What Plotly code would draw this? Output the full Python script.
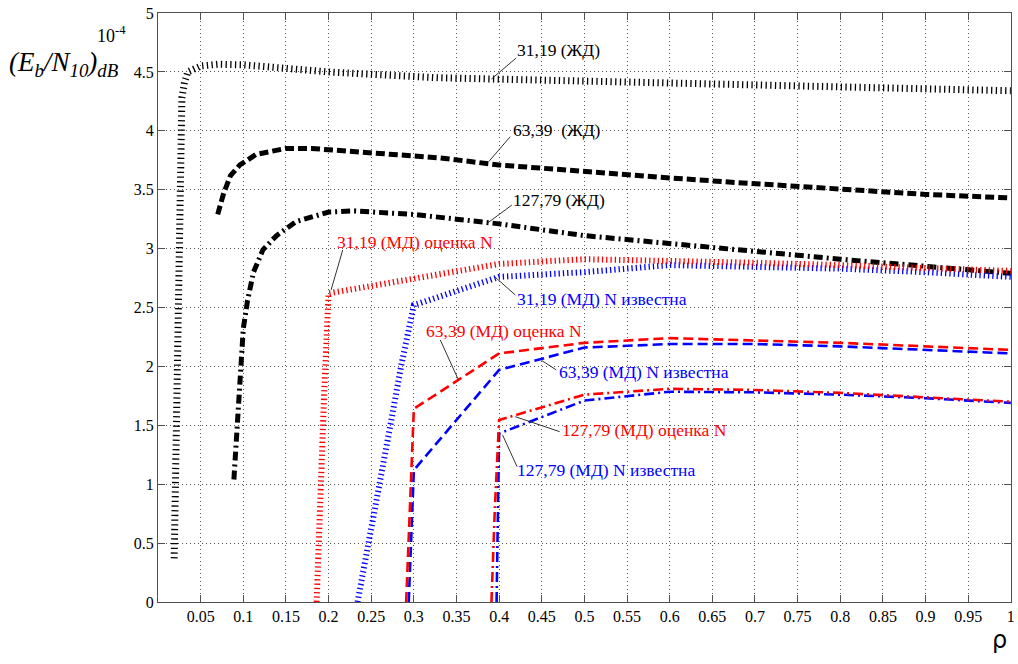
import plotly.graph_objects as go

# ---- data -----------------------------------------------------------------
# ЖД curves
zd31_x = [0.019, 0.020, 0.021, 0.023, 0.025, 0.0265, 0.028, 0.031, 0.035, 0.05, 0.07, 0.1,
          0.2, 0.33, 0.5, 0.66, 0.8, 0.9, 1.0]
zd31_y = [0.37, 0.9, 1.5, 2.5, 3.5, 4.0, 4.28, 4.41, 4.5, 4.55, 4.565, 4.56,
          4.5, 4.45, 4.42, 4.39, 4.37, 4.355, 4.34]

zd63_x = [0.07, 0.077, 0.085, 0.096, 0.115, 0.15, 0.18, 0.25, 0.33, 0.4, 0.5, 0.6, 0.68,
          0.8, 0.9, 1.0]
zd63_y = [3.29, 3.47, 3.62, 3.71, 3.80, 3.85, 3.85, 3.81, 3.77, 3.71, 3.65, 3.60, 3.56,
          3.50, 3.46, 3.43]

zd127_x = [0.089, 0.093, 0.096, 0.100, 0.105, 0.112, 0.123, 0.139, 0.162, 0.2, 0.23, 0.3,
           0.35, 0.4, 0.5, 0.6, 0.68, 0.8, 0.9, 1.0]
zd127_y = [1.04, 1.5, 1.95, 2.32, 2.56, 2.8, 2.99, 3.11, 3.23, 3.31, 3.32, 3.29,
           3.25, 3.21, 3.11, 3.04, 2.99, 2.91, 2.85, 2.79]

# МД curves, N estimated
md31e_x = [0.186, 0.19, 0.195, 0.2, 0.3, 0.4, 0.5, 0.6, 0.7, 0.8, 0.9, 1.0]
md31e_y = [0.0, 0.9, 1.8, 2.62, 2.74, 2.87, 2.91, 2.90, 2.88, 2.86, 2.84, 2.81]

md63e_x = [0.291, 0.295, 0.300, 0.4, 0.5, 0.6, 0.7, 0.8, 0.9, 1.0]
md63e_y = [0.0, 0.8, 1.64, 2.11, 2.20, 2.24, 2.22, 2.20, 2.17, 2.14]

md127e_x = [0.391, 0.395, 0.4, 0.5, 0.6, 0.7, 0.8, 0.9, 1.0]
md127e_y = [0.0, 0.8, 1.545, 1.76, 1.81, 1.80, 1.775, 1.74, 1.70]

# МД curves, N known
md31k_x = [0.234, 0.248, 0.261, 0.273, 0.285, 0.3, 0.4, 0.5, 0.6, 0.7, 0.8, 0.9, 1.0]
md31k_y = [0.0, 0.53, 1.04, 1.52, 2.0, 2.52, 2.76, 2.80, 2.86, 2.85, 2.83, 2.80, 2.76]

md63k_x = [0.294, 0.297, 0.3, 0.4, 0.5, 0.6, 0.7, 0.8, 0.9, 1.0]
md63k_y = [0.0, 0.55, 1.12, 1.97, 2.16, 2.19, 2.19, 2.17, 2.14, 2.11]

md127k_x = [0.397, 0.4, 0.5, 0.6, 0.7, 0.8, 0.9, 1.0]
md127k_y = [0.0, 1.43, 1.71, 1.785, 1.78, 1.76, 1.73, 1.69]

x_ticks = [round(0.05 * i, 2) for i in range(1, 21)]
x_tick_labels = ["0.05", "0.1", "0.15", "0.2", "0.25", "0.3", "0.35", "0.4", "0.45", "0.5",
                 "0.55", "0.6", "0.65", "0.7", "0.75", "0.8", "0.85", "0.9", "0.95", "1"]
y_ticks = [0.5 * i for i in range(11)]
y_tick_labels = ["0", "0.5", "1", "1.5", "2", "2.5", "3", "3.5", "4", "4.5", "5"]

# curve labels: text, colour, text anchor (x, y), leader line (x0, y0, x1, y1)
labels = [
    ("31,19 (ЖД)", "black", 0.42, 4.686, (0.391, 4.44, 0.42, 4.618)),
    ("63,39\u00a0 (ЖД)", "black", 0.415, 4.007, (0.388, 3.74, 0.413, 3.95)),
    ("127,79 (ЖД)", "black", 0.415, 3.41, (0.386, 3.215, 0.415, 3.37)),
    ("31,19 (МД) оценка N", "#ff0000", 0.209, 3.06, (0.203, 2.65, 0.2166, 2.988)),
    ("31,19 (МД) N известна", "#0000ff", 0.42, 2.576, (0.395, 2.76, 0.419, 2.606)),
    ("63,39 (МД) оценка N", "#ff0000", 0.313, 2.30, (0.352, 1.89, 0.331, 2.224)),
    ("63,39 (МД) N известна", "#0000ff", 0.469, 1.95, (0.45, 2.05, 0.467, 1.97)),
    ("127,79 (МД) оценка N", "#ff0000", 0.473, 1.46, (0.419, 1.573, 0.471, 1.446)),
    ("127,79 (МД) N известна", "#0000ff", 0.42, 1.12, (0.404, 1.418, 0.421, 1.149)),
]

SERIF = "Liberation Serif, Times New Roman, serif"

W, H = 1018, 664
ML, MR, MT, MB = 158, 3, 13, 62


def paper_x(px):
    return (px - ML) / (W - ML - MR)


def paper_y(py):
    return (H - MB - py) / (H - MT - MB)


fig = go.Figure()


def add_curve(xs, ys, color, width, dash):
    fig.add_trace(go.Scatter(x=xs, y=ys, mode="lines", showlegend=False,
                             line=dict(color=color, width=width, dash=dash),
                             hoverinfo="skip"))


DOT_BLACK = "1.3px,3.4px"
DOT = "1.3px,3px"
DASH_THICK = "9px,4px"
DASHDOT_THICK = "9px,4px,2px,4px"
DASH = "10px,5px"
DASHDOT = "10px,4px,2px,4px"

add_curve(zd31_x, zd31_y, "black", 7, DOT_BLACK)
add_curve(zd63_x, zd63_y, "black", 5, DASH_THICK)
add_curve(zd127_x, zd127_y, "black", 5, DASHDOT_THICK)

add_curve(md31k_x, md31k_y, "#0000ff", 6, DOT)
add_curve(md31e_x, md31e_y, "#ff0000", 6, DOT)
add_curve(md63k_x, md63k_y, "#0000ff", 2.6, DASH)
add_curve(md63e_x, md63e_y, "#ff0000", 2.6, DASH)
add_curve(md127k_x, md127k_y, "#0000ff", 2.6, DASHDOT)
add_curve(md127e_x, md127e_y, "#ff0000", 2.6, DASHDOT)

for text, color, tx, ty, (x0, y0, x1, y1) in labels:
    fig.add_shape(type="line", x0=x0, y0=y0, x1=x1, y1=y1, xref="x", yref="y",
                  line=dict(color="#333333", width=1))
    fig.add_annotation(x=tx, y=ty, xref="x", yref="y", text=text, showarrow=False,
                       xanchor="left", yanchor="middle", borderpad=0,
                       font=dict(family=SERIF, size=17.5, color=color))

# axis titles
fig.add_annotation(x=paper_x(111), y=paper_y(34), xref="paper", yref="paper",
                   text="10<sup>-4</sup>", showarrow=False,
                   xanchor="center", yanchor="middle",
                   font=dict(family=SERIF, size=18, color="black"))
fig.add_annotation(x=paper_x(6), y=paper_y(64), xref="paper", yref="paper",
                   text="<i>(E<sub>b</sub>/N<sub>10</sub>)<sub>dB</sub></i>",
                   showarrow=False, xanchor="left", yanchor="middle",
                   font=dict(family=SERIF, size=27, color="black"))
fig.add_annotation(x=paper_x(1003), y=paper_y(640), xref="paper", yref="paper",
                   text="ρ", showarrow=False, xanchor="center", yanchor="middle",
                   font=dict(family="DejaVu Sans", size=24, color="black"))

axis_common = dict(
    showgrid=True, gridcolor="#555555", gridwidth=1, griddash="1px,3px",
    showline=True, linecolor="#505050", linewidth=1.2, mirror="ticks",
    ticks="inside", ticklen=7, tickcolor="#505050", tickwidth=1,
    zeroline=False, tickfont=dict(family=SERIF, size=16, color="black"),
)

fig.update_xaxes(range=[0, 1.0002], tickvals=x_ticks, ticktext=x_tick_labels,
                 ticklabeloverflow="allow", **axis_common)
fig.update_yaxes(range=[0, 5], tickvals=y_ticks, ticktext=y_tick_labels, **axis_common)

fig.update_layout(
    width=W, height=H,
    margin=dict(l=ML, r=MR, t=MT, b=MB),
    paper_bgcolor="white", plot_bgcolor="white",
    showlegend=False,
)

fig.write_html("out.html")
